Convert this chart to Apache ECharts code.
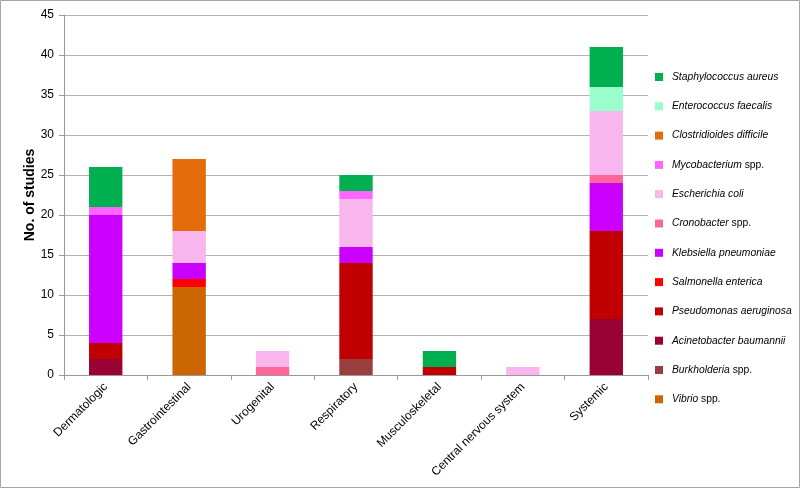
<!DOCTYPE html>
<html>
<head>
<meta charset="utf-8">
<script src="https://cdn.jsdelivr.net/npm/echarts@6/dist/echarts.min.js"></script>
<style>
html,body{margin:0;padding:0;background:#fff;}
#chart{width:800px;height:489px;}
</style>
</head>
<body>
<div id="chart"></div>
<script>
var categories = ['Dermatologic','Gastrointestinal','Urogenital','Respiratory','Musculoskeletal','Central nervous system','Systemic'];
// stack order bottom -> top
var vibrio         = [0, 11, 0, 0, 0, 0, 0];
var burkholderia   = [0, 0, 0, 2, 0, 0, 0];
var acinetobacter  = [2, 0, 0, 0, 0, 0, 7];
var pseudomonas    = [2, 0, 0, 12, 1, 0, 11];
var salmonella     = [0, 1, 0, 0, 0, 0, 0];
var klebsiella     = [16, 2, 0, 2, 0, 0, 6];
var cronobacter    = [0, 0, 1, 0, 0, 0, 1];
var escherichia    = [0, 4, 2, 6, 0, 1, 8];
var mycobacterium  = [1, 0, 0, 1, 0, 0, 0];
var clostridioides = [0, 9, 0, 0, 0, 0, 0];
var enterococcus   = [0, 0, 0, 0, 0, 0, 3];
var staphylococcus = [5, 0, 0, 2, 2, 0, 5];

var seriesNames = ['Vibrio spp.','Burkholderia spp.','Acinetobacter baumannii','Pseudomonas aeruginosa','Salmonella enterica','Klebsiella pneumoniae','Cronobacter spp.','Escherichia coli','Mycobacterium spp.','Clostridioides difficile','Enterococcus faecalis','Staphylococcus aureus'];
var seriesData = [vibrio, burkholderia, acinetobacter, pseudomonas, salmonella, klebsiella, cronobacter, escherichia, mycobacterium, clostridioides, enterococcus, staphylococcus];
var seriesColors = ['#CC6600','#993D3D','#990033','#C00000','#FF0000','#CC00FF','#FF6699','#F9B6EE','#FF66FF','#E46C0A','#99FFCC','#00B050'];

var series = seriesNames.map(function(n, i){
  return {
    name: n, type: 'bar', stack: 'total', barWidth: '40%',
    data: seriesData[i],
    itemStyle: {color: seriesColors[i]}
  };
});

var chart = echarts.init(document.getElementById('chart'));
chart.setOption({
  animation: false,
  backgroundColor: '#fff',
  textStyle: {fontFamily: 'Liberation Sans'},
  graphic: [{type:'rect', silent:true, shape:{x:0.5,y:0.5,width:799,height:487}, style:{fill:'none', stroke:'#a6a6a6', lineWidth:1}}],
  grid: {left: 64, right: 152, top: 15, bottom: 114, containLabel: false},
  legend: {
    orient: 'vertical', left: 650, top: 65,
    data: seriesNames.slice().reverse(),
    icon: 'rect', itemWidth: 8, itemHeight: 8, itemGap: 15.3,
    textStyle: {
      fontSize: 10.3, color: '#000', lineHeight: 14, padding: [0, 0, 0, 4],
      rich: {
        i: {fontStyle: 'italic', fontSize: 10.3, color: '#000', fontFamily: 'Liberation Sans'},
        n: {fontSize: 10.3, color: '#000', fontFamily: 'Liberation Sans'}
      }
    },
    formatter: function(name){
      if (name.indexOf(' spp.') > 0) {
        return '{i|' + name.replace(' spp.','') + '}{n| spp.}';
      }
      return '{i|' + name + '}';
    }
  },
  xAxis: {
    type: 'category', data: categories,
    axisLine: {lineStyle: {color: '#9a9a9a'}},
    axisTick: {show: true, length: 5, lineStyle: {color: '#9a9a9a'}},
    axisLabel: {rotate: 45, fontSize: 12, color: '#000', margin: 10, interval: 0}
  },
  yAxis: {
    type: 'value', min: 0, max: 45, interval: 5,
    name: 'No. of studies', nameLocation: 'middle', nameGap: 27, nameMoveOverlap: false,
    nameTextStyle: {fontSize: 14, fontWeight: 'bold', color: '#000'},
    axisLine: {show: true, lineStyle: {color: '#9a9a9a'}},
    axisTick: {show: true, length: 5, lineStyle: {color: '#9a9a9a'}},
    axisLabel: {fontSize: 12, color: '#000', margin: 10},
    splitLine: {lineStyle: {color: '#b3b3b3'}}
  },
  series: series
});
</script>
</body>
</html>
